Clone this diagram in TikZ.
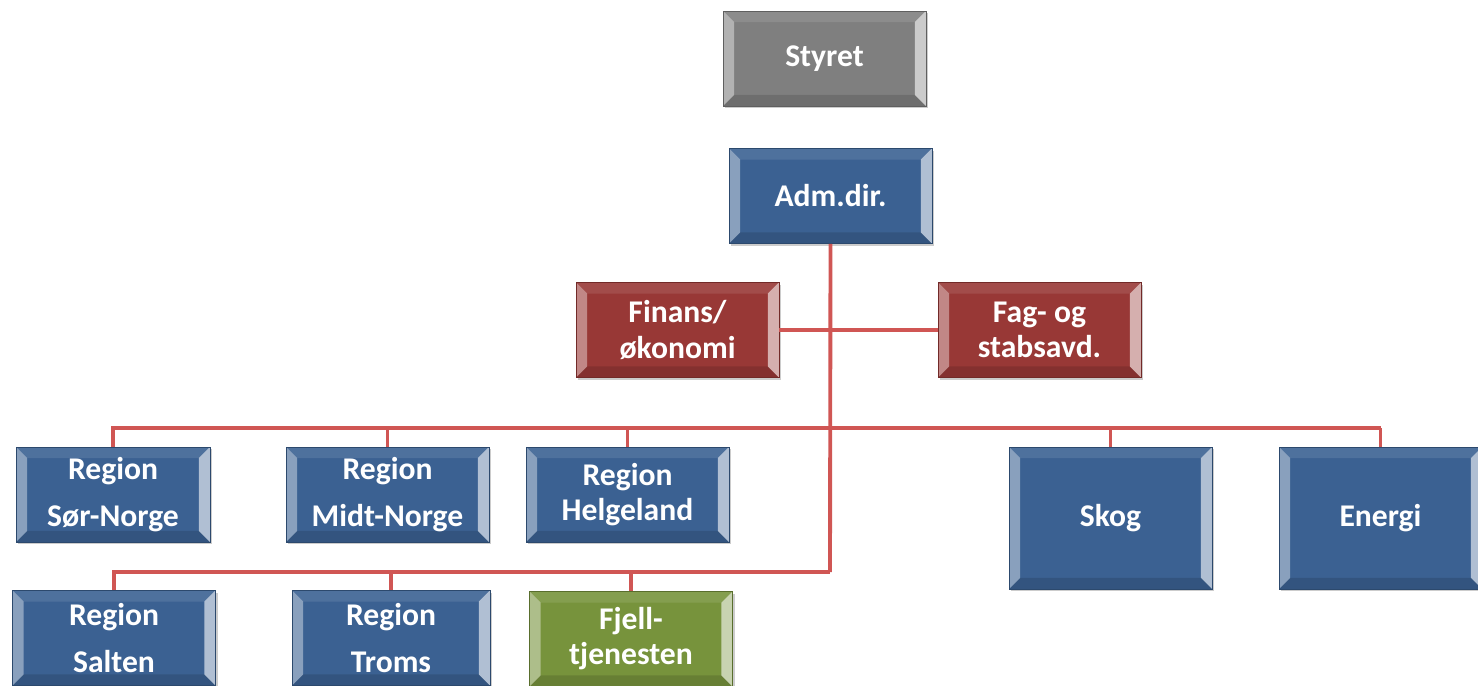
\documentclass[tikz,border=0pt]{standalone}
\usepackage{fontspec}
\setmainfont{Carlito}
\usetikzlibrary{shadows}
\definecolor{orgblue}{RGB}{59,97,146}
\definecolor{orggray}{RGB}{127,127,127}
\definecolor{orgred}{RGB}{152,56,54}
\definecolor{orggreen}{RGB}{119,147,60}
\definecolor{orgline}{RGB}{208,86,84}
\tikzset{
  bevel/.style={path picture={
    \fill[white,opacity=.4] (path picture bounding box.south west) -- (path picture bounding box.north west)
      -- ([shift={(.22cm,-.22cm)}]path picture bounding box.north west) -- ([shift={(.22cm,.22cm)}]path picture bounding box.south west) -- cycle;
    \fill[white,opacity=.6] (path picture bounding box.south east) -- (path picture bounding box.north east)
      -- ([shift={(-.22cm,-.22cm)}]path picture bounding box.north east) -- ([shift={(-.22cm,.22cm)}]path picture bounding box.south east) -- cycle;
    \fill[white,opacity=.1] (path picture bounding box.north west) -- (path picture bounding box.north east)
      -- ([shift={(-.22cm,-.22cm)}]path picture bounding box.north east) -- ([shift={(.22cm,-.22cm)}]path picture bounding box.north west) -- cycle;
    \fill[black,opacity=.13] (path picture bounding box.south west) -- (path picture bounding box.south east)
      -- ([shift={(-.22cm,.22cm)}]path picture bounding box.south east) -- ([shift={(.22cm,.22cm)}]path picture bounding box.south west) -- cycle;
  }},
  unit/.style={fill=#1, draw=#1!75!black, line width=.4pt, bevel, text=white,
    font=\bfseries\fontsize{18}{20}\selectfont, align=center, inner sep=0pt,
    minimum width=4.06cm, minimum height=1.9cm,
    drop shadow={shadow xshift=1.2pt, shadow yshift=-1.4pt, opacity=.4}},
  link/.style={draw=orgline, line width=2.2pt}
}
\begin{document}
\begin{tikzpicture}[x=0.02cm,y=-0.02cm]
\path[use as bounding box, clip] (0,0) rectangle (1478,686);
\node[unit=orggray] (styret) at (824.5,58.5) {Styret};
\node[unit=orgblue] (adm) at (830.5,196) {Adm.dir.};
\node[unit=orgred] (finans) at (677.5,330) {Finans/\\økonomi};
\node[unit=orgred] (fag) at (1039.5,330) {Fag- og\\stabsavd.};
\node[unit=orgblue, minimum width=3.88cm] (sor) at (113,494.5) {Region\\[7pt]Sør-Norge};
\node[unit=orgblue] (midt) at (387.5,494.5) {Region\\[7pt]Midt-Norge};
\node[unit=orgblue] (helg) at (627.5,494.5) {Region\\Helgeland};
\node[unit=orgblue, minimum height=2.84cm] (skog) at (1110.5,518) {Skog};
\node[unit=orgblue, minimum height=2.84cm] (energi) at (1380.5,518) {Energi};
\node[unit=orgblue] (salten) at (114,638) {Region\\[7pt]Salten};
\node[unit=orgblue, minimum width=3.96cm] (troms) at (391,638) {Region\\[7pt]Troms};
\node[unit=orggreen] (fjell) at (631,639) {Fjell-\\tjenesten};
\coordinate (bus1) at (830,428);
\coordinate (bus2) at (830,572);
\path[link]
(adm.south) edge (bus2)
(finans.east) edge (fag.west)
(sor.north) edge[to path={|- (\tikztotarget)}] (energi.north |- bus1)
(energi.north |- bus1) edge (energi.north)
(midt.north |- bus1) edge (midt.north)
(helg.north |- bus1) edge (helg.north)
(skog.north |- bus1) edge (skog.north)
(salten.north) edge[to path={|- (\tikztotarget)}] (bus2)
(troms.north |- bus2) edge (troms.north)
(fjell.north |- bus2) edge (fjell.north)
;
\end{tikzpicture}
\end{document}
